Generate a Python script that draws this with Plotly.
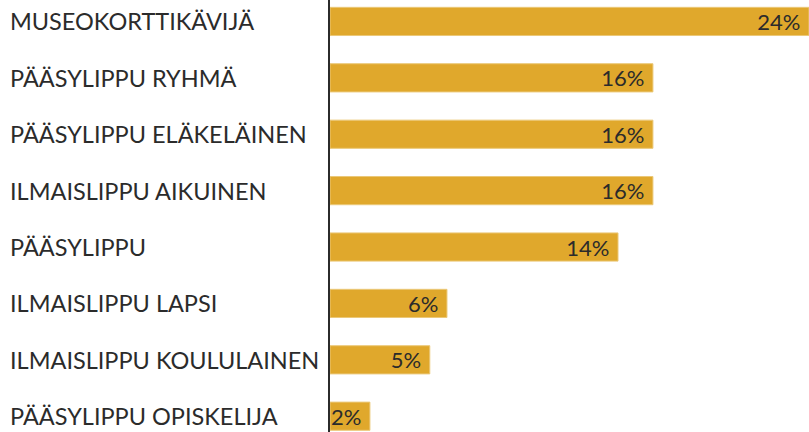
import plotly.graph_objects as go

# Ticket types and their share of visitors
categories = [
    "MUSEOKORTTIKÄVIJÄ",
    "PÄÄSYLIPPU RYHMÄ",
    "PÄÄSYLIPPU ELÄKELÄINEN",
    "ILMAISLIPPU AIKUINEN",
    "PÄÄSYLIPPU",
    "ILMAISLIPPU LAPSI",
    "ILMAISLIPPU KOULULAINEN",
    "PÄÄSYLIPPU OPISKELIJA",
]
shares = [24.0, 16.18, 16.18, 16.18, 14.43, 5.86, 5.0, 2.0]
labels = [f"{v:.0f}%&nbsp;" for v in shares]

BAR_COLOR = "#E0A82C"
TEXT_COLOR = "#2b2b2b"
FONT = "Lato, 'Open Sans', sans-serif"

fig = go.Figure()

fig.add_trace(go.Bar(
    x=shares,
    y=categories,
    orientation="h",
    marker=dict(color=BAR_COLOR, line=dict(color="#EBC878", width=1)),
    text=labels,
    textposition="inside",
    insidetextanchor="end",
    constraintext="none",
    textfont=dict(family=FONT, size=22, color=TEXT_COLOR),
    hoverinfo="skip",
))

# Left-aligned category labels
for cat in categories:
    fig.add_annotation(
        x=-322 / 479, xref="paper", xanchor="left",
        y=cat, yref="y", yanchor="middle",
        text=cat, showarrow=False,
        font=dict(family=FONT, size=23.5, color=TEXT_COLOR),
    )

fig.update_layout(
    width=809,
    height=432,
    margin=dict(l=330, r=0, t=0, b=0),
    plot_bgcolor="white",
    paper_bgcolor="white",
    bargap=0.5,
    showlegend=False,
)
fig.update_xaxes(range=[0, 24.0], visible=False, showgrid=False, zeroline=False)
fig.update_yaxes(
    type="category",
    categoryorder="array",
    categoryarray=categories,
    range=[7.28, -0.38],
    showticklabels=False,
    showgrid=False,
    zeroline=False,
    showline=True,
    linecolor="#2b2b2b",
    linewidth=2,
    ticks="",
)

fig.write_html(
    "out.html",
    config={"displayModeBar": False},
    post_script="document.body.style.margin='0';",
)
